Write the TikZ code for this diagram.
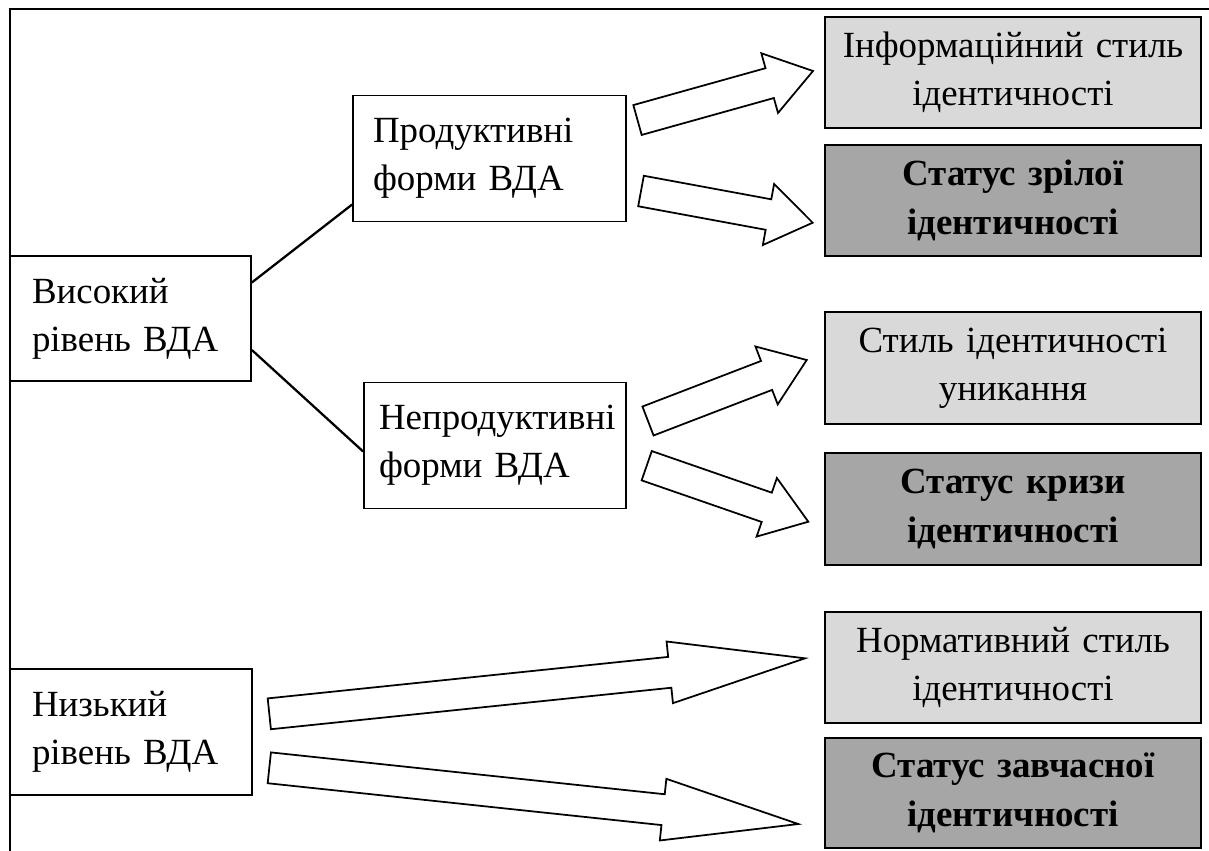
\documentclass[tikz,border=0pt]{standalone}
\usepackage{fontspec}
\setmainfont{Liberation Serif}
\usetikzlibrary{calc}
\newcommand{\fatarrow}[3][0.9cm]{%
 \coordinate (hb) at ($(#3)!#1!(#2)$);
 \draw[fatline] ($(#2)!0.31cm!90:(#3)$) -- ($(hb)!0.31cm!90:(#3)$) -- ($(hb)!0.62cm!90:(#3)$) -- (#3)
  -- ($(hb)!0.62cm!-90:(#3)$) -- ($(hb)!0.31cm!-90:(#3)$) -- ($(#2)!0.31cm!-90:(#3)$) -- cycle;}
\begin{document}
\begin{tikzpicture}[x=0.02cm,y=-0.02cm,
 vdabox/.style={draw,line width=1pt,align=left,minimum height=2.52cm,font=\fontsize{21}{27.5}\selectfont},
 resbox/.style={draw,line width=1pt,align=center,text width=7.3cm,inner xsep=0.11cm,minimum height=2.22cm,font=\fontsize{21}{27.5}\selectfont},
 stylbox/.style={resbox,fill=light},
 statbox/.style={resbox,fill=dark,font=\fontsize{21}{27.5}\selectfont\bfseries},
 fatline/.style={draw,fill=white,line width=1pt,line join=miter},
 link/.style={line width=1.3pt}]
\definecolor{light}{HTML}{D9D9D9}\definecolor{dark}{HTML}{A6A6A6}
\useasboundingbox (0,0) rectangle (1209,850);
\draw[link] (10,852) -- (10,9) -- (1211,9);
% levels and forms
\node[vdabox,text width=3.94cm,inner xsep=0.44cm,minimum height=2.5cm] (vys) at (130.5,318.5) {Високий\\рівень ВДА};
\node[vdabox,text width=3.96cm,inner xsep=0.44cm] (nyz) at (131,732) {Низький\\рівень ВДА};
\node[vdabox,text width=4.66cm,inner xsep=0.4cm] (prod) at (489.5,158.5) {Продуктивні\\форми ВДА};
\node[vdabox,text width=4.64cm,inner xsep=0.3cm] (neprod) at (495,445.5) {Непродуктивні\\форми ВДА};
% styles and statuses
\node[stylbox] (info) at (1013,72.5) {Інформаційний стиль\\ідентичності};
\node[statbox] (zril) at (1013,200.5) {Статус зрілої\\ідентичності};
\node[stylbox,minimum height=2.24cm] (unyk) at (1013,368) {Стиль ідентичності\\уникання};
\node[statbox,minimum height=2.24cm] (kryz) at (1013,509) {Статус кризи\\ідентичності};
\node[stylbox] (norm) at (1013,667.5) {Нормативний стиль\\ідентичності};
\node[statbox,minimum height=2.2cm] (zavch) at (1013,793) {Статус завчасної\\ідентичності};
\draw[link] ([yshift=0.72cm]vys.east) -- ([yshift=-0.92cm]prod.west);
\draw[link] ([yshift=-0.63cm]vys.east) -- ([yshift=-0.12cm]neprod.west);
% block arrows
\coordinate (a1) at (637.5,120); \coordinate (b1) at (813,71);
\coordinate (a2) at (641,191); \coordinate (b2) at (812.7,222.7);
\coordinate (a3) at (648,421); \coordinate (b3) at (806.7,360);
\coordinate (a4) at (646.7,465.7); \coordinate (b4) at (808.3,521.7);
\coordinate (a5) at (269.3,713.8); \coordinate (b5) at (805,658.3);
\coordinate (a6) at (269.3,767.8); \coordinate (b6) at (798.3,824);
\foreach \s/\e/\h in {a1/b1/0.9cm,a2/b2/0.9cm,a3/b3/0.86cm,a4/b4/0.88cm,a5/b5/2.72cm,a6/b6/2.72cm}
 \fatarrow[\h]{\s}{\e};
\end{tikzpicture}
\end{document}
